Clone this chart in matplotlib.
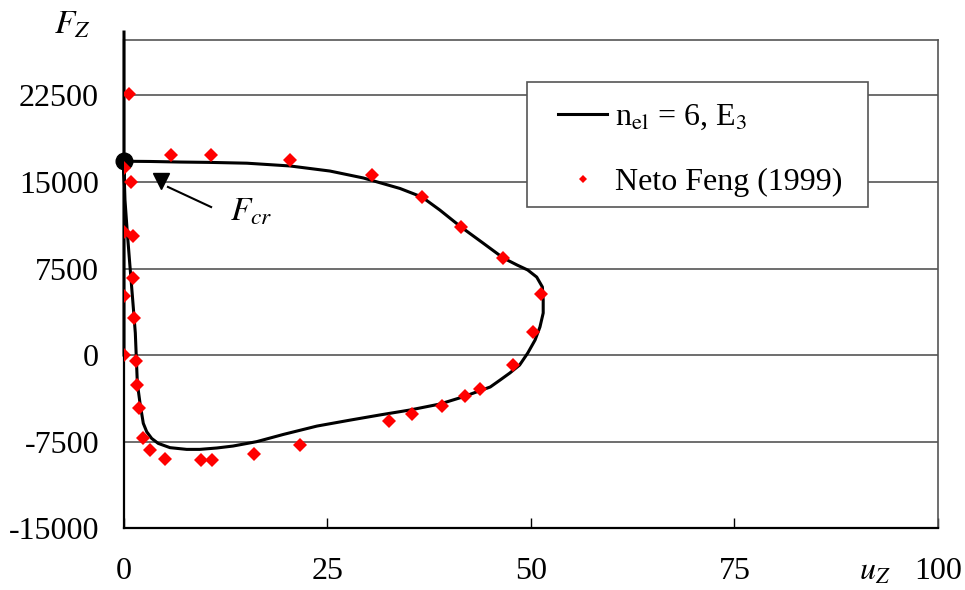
import matplotlib.pyplot as plt
from matplotlib.patches import Rectangle

plt.rcParams['font.family'] = ['Liberation Serif', 'DejaVu Serif']
plt.rcParams['mathtext.fontset'] = 'stix'

# equilibrium path, n_el = 6, E3
model_u = [0, 0, 3.2, 6.9, 10.5, 15.1, 20.4, 25.3, 29.4, 33.9, 36.6, 38.8, 41.4,
           44.1, 46.6, 48.3, 49.6, 50.7, 51.4, 51.5, 51.5, 51.1, 50.5, 49.6, 48.6,
           47.4, 46.2, 45.0, 41.6, 38.8, 35.1, 31.4, 27.8, 23.7, 19.6, 16.3, 13.4,
           11.4, 9.3, 7.7, 5.65, 4.2, 3.4, 2.79, 2.37, 1.97, 1.64, 1.39, 1.07,
           0.74, 0.41, 0.12, 0, 0]
model_f = [0, 16800, 16780, 16730, 16700, 16630, 16390, 15950, 15350, 14440, 13700,
           12570, 11100, 9710, 8410, 7800, 7370, 6760, 5900, 4770, 3640, 2430, 1300,
           170, -870, -1560, -2170, -2770, -3640, -4250, -4770, -5200, -5640,
           -6160, -6880, -7510, -7890, -8060, -8180, -8180, -8030, -7660, -7230,
           -6650, -5920, -4190, -2460, 1910, 4770, 7630, 10580, 13440, 16000,
           28000]

# Neto Feng (1999)
neto_u = [0.6, 5.8, 10.7, 20.4, 30.5, 36.6, 41.4, 46.6, 51.2, 50.2, 47.8, 43.7,
          41.9, 39.1, 35.4, 32.6, 21.6, 16.0, 10.8, 9.5, 5.0, 3.2, 2.3, 1.8, 1.56,
          1.47, 1.23, 1.07, 1.07, 0.82, 0, 0, 0, 0]
neto_f = [22630, 17340, 17340, 16910, 15600, 13700, 11100, 8410, 5290, 1990, -870,
          -2950, -3560, -4420, -5120, -5720, -7800, -8580, -9100, -9100, -9020,
          -8240, -7200, -4590, -2600, -490, 3210, 6680, 10320, 15030, 0, 5120,
          10690, 16190]

f_cr = 16800
x_ticks = [0, 25, 50, 75, 100]
y_ticks = [-15000, -7500, 0, 7500, 15000, 22500]

fig = plt.figure(figsize=(9.65, 5.9), dpi=100)
ax = fig.add_axes([0.1285, 0.105, 0.8435, 0.827])

ax.plot(model_u, model_f, color='black', lw=2.2, clip_on=False, zorder=3,
        solid_joinstyle='round', label='n$_{\\mathrm{el}}$ = 6, E$_{\\mathrm{3}}$')
ax.plot(neto_u, neto_f, ls='none', marker='D', ms=7.2, color='red', mew=0,
        zorder=4, label='Neto Feng (1999)')
ax.plot([0], [f_cr], marker='o', ms=12, color='black', clip_on=False, zorder=3.5)

# F_cr pointer
ax.plot([4.55], [15090], marker='v', ms=11, color='black', zorder=5)
ax.plot([5.4, 10.7], [14570, 12830], color='black', lw=1.5, zorder=5)
ax.text(13.0, 11620, '$F_{cr}$', fontsize=24, ha='left', va='baseline')

ax.set_xlim(0, 100)
ax.set_ylim(-15000, 27300)
ax.set_xticks(x_ticks)
ax.set_yticks(y_ticks)
ax.set_xticklabels([str(v) for v in x_ticks])
ax.set_yticklabels([str(v) for v in y_ticks])
ax.tick_params(axis='x', direction='in', length=7, width=1, pad=21, labelsize=23)
ax.tick_params(axis='y', length=0, pad=18, labelsize=23)

ax.yaxis.grid(True, color='#555555', lw=1.2)
ax.set_axisbelow(True)
for s in ['left', 'bottom']:
    ax.spines[s].set_color('black')
    ax.spines[s].set_linewidth(1.6)
for s in ['top', 'right']:
    ax.spines[s].set_color('#555555')
    ax.spines[s].set_linewidth(1.2)

# legend box drawn separately so the padding can match the original
ax.add_patch(Rectangle((0.495, 0.658), 0.419, 0.256, transform=ax.transAxes,
                       facecolor='white', edgecolor='#555555', lw=1.2, zorder=6))
leg = ax.legend(loc='upper left', bbox_to_anchor=(0.5135, 0.905), fontsize=23,
                frameon=False, borderpad=0.5, labelspacing=1.12,
                handlelength=1.55, handletextpad=0.25, markerscale=0.6,
                borderaxespad=0)
leg.set_zorder(7)

fig.text(0.0746, 0.958, '$F_Z$', fontsize=24, ha='center', va='center')
fig.text(0.907, 0.0305, '$u_Z$', fontsize=23, ha='center', va='center')

fig.savefig('out.png', dpi=100)
